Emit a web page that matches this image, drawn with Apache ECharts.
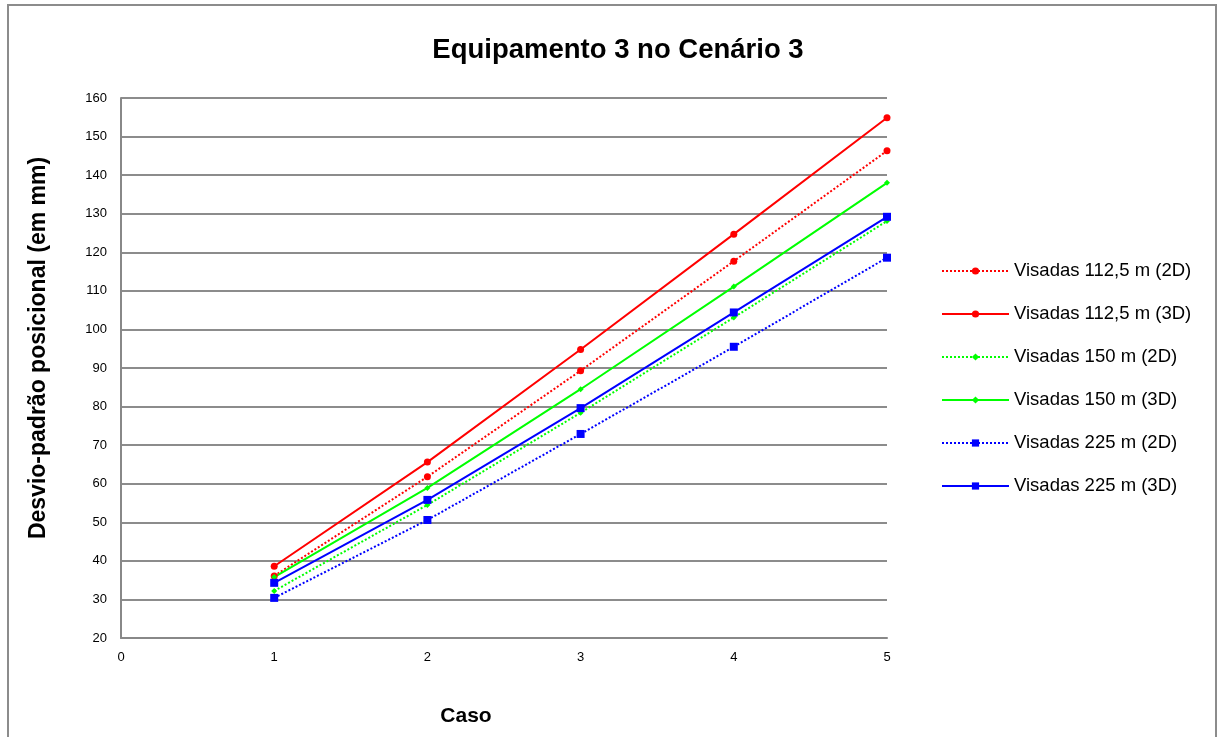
<!DOCTYPE html>
<html><head><meta charset="utf-8">
<script src="https://cdn.jsdelivr.net/npm/echarts@6/dist/echarts.min.js"></script>
<style>html,body{margin:0;padding:0;background:#fff}#c{width:1218px;height:737px}</style>
</head><body><div id="c"></div>
<script>
const cases = [1, 2, 3, 4, 5];
const v1125_2D = [36.1, 61.8, 89.3, 117.7, 146.3];
const v1125_3D = [38.6, 65.6, 94.8, 124.7, 154.9];
const v150_2D = [32.2, 54.5, 78.4, 103.1, 128.1];
const v150_3D = [35.8, 58.9, 84.5, 111.1, 138.0];
const v225_2D = [30.4, 50.6, 72.9, 95.5, 118.6];
const v225_3D = [34.3, 55.8, 79.6, 104.4, 129.2];
const names = ['Visadas 112,5 m (2D)','Visadas 112,5 m (3D)','Visadas 150 m (2D)','Visadas 150 m (3D)','Visadas 225 m (2D)','Visadas 225 m (3D)'];
const yTicks = [20,30,40,50,60,70,80,90,100,110,120,130,140,150,160];

const FONT = 'Liberation Sans';
function pts(arr){ return cases.map((c,i)=>[c, arr[i]]); }
function ser(name, data, color, dotted, symbol, size){
  return {name, type:'line', data: pts(data), symbol, symbolSize:size,
    itemStyle:{color}, lineStyle:{color, width:2, type: dotted ? [2,2] : 'solid'},
    emphasis:{disabled:true}, animation:false};
}
const chart = echarts.init(document.getElementById('c'), null, {renderer:'canvas'});
chart.setOption({
  animation:false,
  title:{text:'Equipamento 3 no Cenário 3', left:613, top:31, textAlign:'center',
    textStyle:{fontFamily:FONT, fontWeight:'bold', fontSize:27.5, color:'#000'}},
  graphic:[{type:'rect', shape:{x:8,y:5,width:1208,height:740}, style:{fill:'none', stroke:'#8c8c8c', lineWidth:2}}],
  grid:{left:121, right:1218-887, top:98, bottom:737-638, containLabel:false},
  legend:{orient:'vertical', left:936, top:255, itemGap:21, itemWidth:67, itemHeight:9,
    textStyle:{fontFamily:FONT, fontSize:18.5, color:'#000', lineHeight:22}, data:names},
  xAxis:{type:'value', min:0, max:5, interval:1, name:'Caso', nameLocation:'middle', nameGap:68,
    nameTextStyle:{fontFamily:FONT, fontWeight:'bold', fontSize:21, color:'#000', padding:[0,76,0,0]},
    axisLine:{lineStyle:{color:'#888', width:2}}, axisTick:{show:false}, splitLine:{show:false},
    axisLabel:{fontFamily:FONT, fontSize:13, color:'#000', margin:13}},
  yAxis:{type:'value', min:20, max:160, interval:10, name:'Desvio-padrão posicional (em mm)', nameLocation:'middle', nameGap:71,
    nameTextStyle:{fontFamily:FONT, fontWeight:'bold', fontSize:23, color:'#000', padding:[0,0,0,40]},
    axisLine:{show:true, lineStyle:{color:'#888', width:2}}, axisTick:{show:false},
    splitLine:{lineStyle:{color:'#8c8c8c', width:2}},
    axisLabel:{fontFamily:FONT, fontSize:13, color:'#000', margin:14}},
  series:[
    ser(names[0], v1125_2D, '#ff0000', true, 'circle', 7),
    ser(names[1], v1125_3D, '#ff0000', false, 'circle', 7),
    ser(names[2], v150_2D, '#00ff00', true, 'diamond', 6),
    ser(names[3], v150_3D, '#00ff00', false, 'diamond', 6),
    ser(names[4], v225_2D, '#0000ff', true, 'rect', 8),
    ser(names[5], v225_3D, '#0000ff', false, 'rect', 8)
  ]
});
</script></body></html>
